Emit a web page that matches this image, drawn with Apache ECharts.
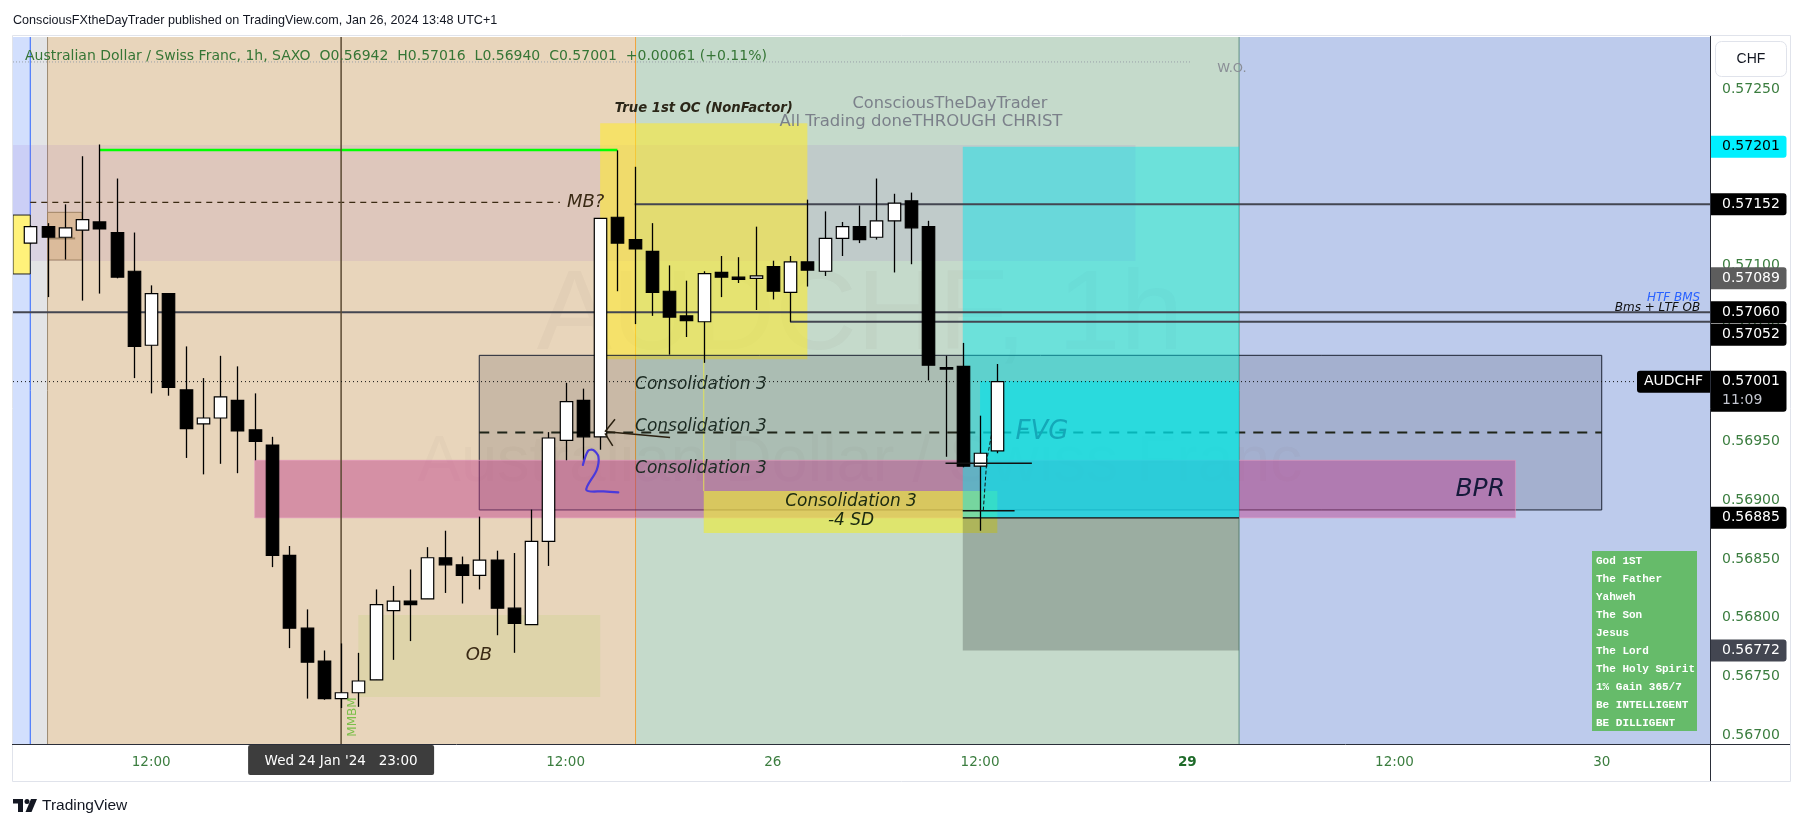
<!DOCTYPE html>
<html><head><meta charset="utf-8">
<script src="https://cdn.jsdelivr.net/npm/echarts@6/dist/echarts.min.js"></script>
<style>html,body{margin:0;padding:0;background:#fff}#c{width:1803px;height:829px}</style>
</head><body><div id="c"></div>
<script>
// ---- data (AUDCHF 1h, bar index = trading hours since Wed 24 Jan 00:00, weekend skipped)
const firstBar = 5; // 05:00 Wed 24 Jan
const opens  = [0.57119,0.57133,0.57124,0.57130,0.57137,0.57128,0.57095,0.57032,0.57076,0.56994,0.56965,0.56970,0.56985,0.56960,0.56947,0.56853,0.56791,0.56763,0.56731,0.56736,0.56747,0.56806,0.56814,0.56816,0.56851,0.56845,0.56836,0.56849,0.56808,0.56794,0.56865,0.56951,0.56985,0.56954,0.57141,0.57122,0.57112,0.57078,0.57057,0.57052,0.57094,0.57090,0.57089,0.57099,0.57077,0.57103,0.57095,0.57123,0.57133,0.57124,0.57138,0.57155,0.57133,0.57013,0.57014,0.56929,0.56942];
const highs  = [0.57134,0.57136,0.57152,0.57193,0.57203,0.57174,0.57128,0.57083,0.57076,0.57031,0.57004,0.57023,0.57014,0.56991,0.56954,0.56861,0.56807,0.56772,0.56778,0.56770,0.56824,0.56827,0.56841,0.56860,0.56874,0.56852,0.56886,0.56857,0.56855,0.56892,0.56958,0.57000,0.56995,0.57140,0.57198,0.57184,0.57136,0.57100,0.57087,0.57095,0.57108,0.57107,0.57133,0.57104,0.57108,0.57156,0.57146,0.57137,0.57151,0.57174,0.57161,0.57162,0.57138,0.57023,0.57034,0.56972,0.57016];
const lows   = [0.57118,0.57073,0.57105,0.57070,0.57076,0.57089,0.57004,0.56991,0.56989,0.56936,0.56922,0.56931,0.56923,0.56934,0.56843,0.56774,0.56731,0.56730,0.56723,0.56724,0.56747,0.56764,0.56780,0.56816,0.56821,0.56812,0.56824,0.56785,0.56770,0.56794,0.56844,0.56934,0.56934,0.56943,0.57078,0.57050,0.57057,0.57024,0.57039,0.57017,0.57073,0.57085,0.57062,0.57071,0.57052,0.57082,0.57091,0.57108,0.57119,0.57122,0.57094,0.57101,0.57002,0.56937,0.56928,0.56874,0.56940];
const closes = [0.57133,0.57124,0.57132,0.57139,0.57131,0.57090,0.57031,0.57076,0.56996,0.56961,0.56970,0.56988,0.56959,0.56950,0.56853,0.56791,0.56762,0.56731,0.56736,0.56746,0.56811,0.56814,0.56811,0.56851,0.56845,0.56836,0.56849,0.56808,0.56795,0.56865,0.56953,0.56984,0.56954,0.57140,0.57119,0.57114,0.57077,0.57056,0.57053,0.57093,0.57090,0.57088,0.57091,0.57078,0.57103,0.57096,0.57123,0.57133,0.57122,0.57138,0.57153,0.57132,0.57015,0.57012,0.56929,0.56940,0.57001];
const timeTickValues = [12,36,48,60,72,84,96];
const timeTickLabels = ['12:00','12:00','26','12:00','29','12:00','30'];
const priceTickValues = [0.567,0.5675,0.568,0.5685,0.569,0.5695,0.570,0.5705,0.571,0.5715,0.572,0.5725];
const priceTags = [
  {p:0.57201, bg:'#00f0ff', fg:'#000'},
  {p:0.57152, bg:'#000', fg:'#fff'},
  {p:0.57089, bg:'#5d5d5d', fg:'#fff'},
  {p:0.57060, bg:'#000', fg:'#fff'},
  {p:0.57052, bg:'#000', fg:'#fff', dy:13},
  {p:0.56885, bg:'#000', fg:'#fff'},
  {p:0.56772, bg:'#434651', fg:'#fff'}
];
const lastPrice = 0.57001;
const tableRows = ['God 1ST','The Father','Yahweh','The Son','Jesus','The Lord','The Holy Spirit','1% Gain 365/7','Be INTELLIGENT','BE DILLIGENT'];

const PMIN = 0.5669234, PMAX = 0.5729455, TMIN = 4, TMAX = 102.27;

// ---- drawings (in bar-index / price units)
const under = [
  {k:'rect', t1:4, t2:5, p1:PMIN, p2:PMAX, fill:'#d2dffd'},
  {k:'rect', t1:5, t2:6, p1:PMIN, p2:PMAX, fill:'#e3e4e6'},
  {k:'rect', t1:6, t2:40.05, p1:PMIN, p2:PMAX, fill:'#e8d5bb'},
  {k:'rect', t1:40.05, t2:75, p1:PMIN, p2:PMAX, fill:'#c5dacb'},
  {k:'rect', t1:75, t2:TMAX, p1:PMIN, p2:PMAX, fill:'#bdcbec'},
  {k:'vline', t:5, color:'#2962ff'},
  {k:'vline', t:6, color:'#9b8b72'},
  {k:'vline', t:40.05, color:'#f2a33a'},
  {k:'vline', t:75, color:'#5f8f80'},
  {k:'text', t:53.05, p:0.57055, text:'AUDCHF, 1h', size:113, fill:'rgba(80,70,60,0.035)', family:'Liberation Sans'},
  {k:'text', t:53.05, p:0.56932, text:'Australian Dollar / Swiss Franc', size:65, fill:'rgba(80,70,60,0.03)', family:'Liberation Sans'},
  {k:'rect', t1:4, t2:69, p1:0.571037, p2:0.572026, fill:'rgba(160,100,200,0.12)'},
  {k:'rect', t1:24, t2:38, p1:0.567324, p2:0.568022, fill:'rgba(190,210,120,0.25)'},
  {k:'rect', t1:4, t2:5, p1:0.570927, p2:0.571429, fill:'#fff27a', stroke:'#222'},
  {k:'rect', t1:6, t2:8, p1:0.571046, p2:0.571452, fill:'rgba(215,165,95,0.35)', stroke:'#a08565'},
  {k:'seg', t1:6, p1:0.57123, t2:7.6, p2:0.57123, color:'#a08565', w:2},
  {k:'rect', t1:38, t2:50, p1:0.5702, p2:0.57221, fill:'rgba(255,235,40,0.55)'},
  {k:'rect', t1:31, t2:96, p1:0.568917, p2:0.570234, fill:'rgba(30,30,50,0.15)', stroke:'#1c2333'},
  {k:'rect', t1:18, t2:91, p1:0.56885, p2:0.56934, fill:'rgba(190,60,140,0.45)', stroke:'rgba(230,150,190,0.6)'},
  {k:'rect', t1:44, t2:61, p1:0.568721, p2:0.569078, fill:'rgba(235,235,60,0.65)'},
  {k:'seg', t1:44, p1:0.569078, t2:44, p2:0.5702, color:'rgba(230,230,80,0.9)', w:1},
  {k:'seg', t1:31, p1:0.569576, t2:96, p2:0.569576, color:'#1f2418', w:2, dash:[10,8]},
  {k:'rect', t1:59, t2:75, p1:0.56885, p2:0.57201, fill:'rgba(0,232,238,0.45)'},
  {k:'rect', t1:59, t2:75, p1:0.56772, p2:0.56885, fill:'rgba(30,40,35,0.25)'},
  {k:'rect', t1:60, t2:75, p1:0.56885, p2:0.570015, fill:'rgba(0,225,235,0.55)'},
  {k:'seg', t1:59, p1:0.56885, t2:75, p2:0.56885, color:'#111', w:1.2},
  {k:'seg', t1:4, p1:0.572733, t2:72.16, p2:0.572733, color:'#9aa0a8', w:1, dash:[1,2]},
  {k:'seg', t1:5, p1:0.571537, t2:35.67, p2:0.571537, color:'#3a2a12', w:1.3, dash:[6,5]},
  {k:'seg', t1:9, p1:0.571983, t2:39, p2:0.571983, color:'#00ff00', w:2.5},
  {k:'seg', t1:40, p1:0.57152, t2:TMAX, p2:0.57152, color:'#434651', w:2},
  {k:'seg', t1:4, p1:0.57060, t2:TMAX, p2:0.57060, color:'#434651', w:2},
  {k:'seg', t1:49, p1:0.57052, t2:TMAX, p2:0.57052, color:'#434651', w:2},
  {k:'vline', t:23, color:'#5b4a33', w:1.5},
  {k:'seg', t1:4, p1:lastPrice, t2:98.05, p2:lastPrice, color:'#111', w:1, dash:[1,3]}
];
const over = [
  {k:'text', t:44.0, p:0.572338, text:'True 1st OC (NonFactor)', size:13.2, fill:'#2b2618', style:'italic', weight:'bold'},
  {k:'text', t:58.26, p:0.572379, text:'ConsciousTheDayTrader', size:16.2, fill:'#7b808a'},
  {k:'text', t:56.58, p:0.572221, text:'All Trading doneTHROUGH CHRIST', size:16.5, fill:'#7b808a'},
  {k:'text', t:74.59, p:0.572673, text:'W.O.', size:13, fill:'#8a8e96'},
  {k:'text', t:36.08, p:0.57154, text:'MB?', size:18, fill:'#3a2a15', style:'italic', align:'left'},
  {k:'text', t:40.02, p:0.569987, text:'Consolidation 3', size:17, fill:'#1b2a22', style:'italic', align:'left'},
  {k:'text', t:40.02, p:0.569626, text:'Consolidation 3', size:17, fill:'#1b2a22', style:'italic', align:'left'},
  {k:'text', t:40.02, p:0.569271, text:'Consolidation 3', size:17, fill:'#1b2a22', style:'italic', align:'left'},
  {k:'text', t:52.53, p:0.56899, text:'Consolidation 3', size:17, fill:'#1b2a10', style:'italic'},
  {k:'text', t:52.53, p:0.568823, text:'-4 SD', size:17, fill:'#1b2a10', style:'italic'},
  {k:'text', t:63.59, p:0.569583, text:'FVG', size:26, fill:'#14a8b8', style:'italic'},
  {k:'text', t:90.4, p:0.569095, text:'BPR', size:25, fill:'#15193a', style:'italic', align:'right'},
  {k:'text', t:30.98, p:0.567681, text:'OB', size:18, fill:'#3a2a15', style:'italic'},
  {k:'text', t:101.7, p:0.570722, text:'HTF BMS', size:12, fill:'#2962ff', style:'italic', align:'right'},
  {k:'text', t:101.7, p:0.570637, text:'Bms + LTF OB', size:12, fill:'#111', style:'italic', align:'right'},
  {k:'text', t:23.69, p:0.567153, text:'MMBM', size:12, fill:'#7cbf4a', rot:Math.PI/2},
  {k:'path', pts:[[37.0,0.5693],[37.3,0.56942],[37.6,0.569428],[37.9,0.569371],[37.8,0.569257],[37.2,0.569087],[38.2,0.569075],[39.05,0.569067]], color:'#4a3adb', w:2.2, smooth:0.3},
  {k:'seg', t1:38.28, p1:0.569583, t2:38.86, p2:0.569689, color:'#2a2010', w:1.5},
  {k:'seg', t1:38.28, p1:0.56957, t2:38.73, p2:0.569462, color:'#2a2010', w:1.5},
  {k:'seg', t1:38.38, p1:0.569583, t2:42.05, p2:0.569535, color:'#2a2010', w:1.5},
  {k:'seg', t1:58, p1:0.569314, t2:63, p2:0.569314, color:'#111', w:1.5},
  {k:'seg', t1:59, p1:0.568911, t2:62, p2:0.568911, color:'#111', w:1.5},
  {k:'path', pts:[[60.19,0.568917],[60.39,0.569342],[60.68,0.56957]], color:'#111', w:1, dash:[3,3]}
];
const tags = priceTags.map(t => Object.assign({k:'tag'}, t)).concat([
  {k:'last', p:lastPrice},
  {k:'sym', p:lastPrice},
  {k:'time', t:23, text:"Wed 24 Jan '24   23:00"}
]);

function rectOf(api, a){
  const A = api.coord([a.t1, a.p2]), B = api.coord([a.t2, a.p1]);
  return {x:A[0], y:A[1], width:B[0]-A[0], height:B[1]-A[1]};
}
function draw(a, api){
  if (a.k === 'rect') return {type:'rect', shape:rectOf(api,a), style:{fill:a.fill, stroke:a.stroke, lineWidth:1}};
  if (a.k === 'vline') { const s = api.coord([a.t, PMAX]), e = api.coord([a.t, PMIN]);
    return {type:'line', shape:{x1:s[0],y1:s[1],x2:e[0],y2:e[1]}, style:{stroke:a.color, lineWidth:a.w||1}}; }
  if (a.k === 'seg') { const s = api.coord([a.t1,a.p1]), e = api.coord([a.t2,a.p2]);
    return {type:'line', shape:{x1:s[0],y1:s[1],x2:e[0],y2:e[1]}, style:{stroke:a.color, lineWidth:a.w||1, lineDash:a.dash}}; }
  if (a.k === 'path') { const pts = a.pts.map(q => api.coord(q));
    return {type:'polyline', shape:{points:pts, smooth:a.smooth||0}, style:{stroke:a.color, lineWidth:a.w||1, fill:null, lineDash:a.dash, lineCap:'round', lineJoin:'round'}}; }
  if (a.k === 'text') { const q = api.coord([a.t, a.p]);
    return {type:'text', x:q[0], y:q[1], rotation:a.rot||0, style:{text:a.text, x:0, y:0, fill:a.fill, fontSize:a.size,
      fontFamily:a.family||'DejaVu Sans', fontStyle:a.style||'normal', fontWeight:a.weight||'normal', align:a.align||'center', verticalAlign:'middle'}}; }
  return null;
}
function drawTag(a, api){
  const font = {fontSize:14, fontFamily:'DejaVu Sans'};
  if (a.k === 'tag') { const q = api.coord([TMAX, a.p]); const x = q[0], y = q[1] + (a.dy||0);
    return {type:'group', children:[
      {type:'rect', shape:{x:x+0.5, y:y-11, width:76, height:22, r:[0,3,3,0]}, style:{fill:a.bg}},
      {type:'text', style:Object.assign({text:a.p.toFixed(5), x:x+12, y:y, fill:a.fg, verticalAlign:'middle', align:'left'}, font)}]}; }
  if (a.k === 'last') { const q = api.coord([TMAX, a.p]); const x = q[0], y = q[1];
    return {type:'group', children:[
      {type:'rect', shape:{x:x+0.5, y:y-11, width:76, height:41, r:[0,3,3,0]}, style:{fill:'#000'}},
      {type:'text', style:Object.assign({text:a.p.toFixed(5), x:x+12, y:y, fill:'#fff', verticalAlign:'middle'}, font)},
      {type:'text', style:Object.assign({text:'11:09', x:x+12, y:y+19, fill:'#c3c6cf', verticalAlign:'middle'}, font)}]}; }
  if (a.k === 'sym') { const q = api.coord([TMAX, a.p]); const x = q[0], y = q[1];
    return {type:'group', children:[
      {type:'rect', shape:{x:x-73, y:y-11, width:73, height:22, r:[3,0,0,3]}, style:{fill:'#000'}},
      {type:'text', style:Object.assign({text:'AUDCHF', x:x-36.5, y:y, fill:'#fff', verticalAlign:'middle', align:'center'}, font)}]}; }
  if (a.k === 'time') { const q = api.coord([a.t, PMIN]); const x = q[0], y = q[1];
    return {type:'group', children:[
      {type:'rect', shape:{x:x-93, y:y+1, width:186, height:30, r:2}, style:{fill:'#3d3d3d'}},
      {type:'text', style:{text:a.text, x:x, y:y+17, fill:'#fff', fontSize:13.5, fontFamily:'DejaVu Sans', align:'center', verticalAlign:'middle'}}]}; }
  return null;
}
function renderCandle(params, api){
  const t = api.value(0), o = api.value(1), c = api.value(2), l = api.value(3), h = api.value(4);
  const po = api.coord([t,o]), pc = api.coord([t,c]), pl = api.coord([t,l]), ph = api.coord([t,h]);
  const w = api.size([1,0])[0]*0.72;
  const x = Math.round(po[0]) + 0.5;
  const top = Math.min(po[1],pc[1]), bot = Math.max(po[1],pc[1]);
  return {type:'group', children:[
    {type:'line', shape:{x1:x,y1:ph[1],x2:x,y2:pl[1]}, style:{stroke:'#000', lineWidth:1.3}},
    {type:'rect', shape:{x:x-w/2, y:top, width:w, height:Math.max(bot-top,1.5)}, style:{fill:c>=o?'#fff':'#000', stroke:'#000', lineWidth:1.2}}
  ]};
}

const candleData = opens.map((o,i) => [firstBar+i, o, closes[i], lows[i], highs[i]]);
const dummy = arr => arr.map(() => [50, 0.57]);
const green = '#3b7d3f';

const chart = echarts.init(document.getElementById('c'));
chart.setOption({
  animation:false,
  backgroundColor:'#fff',
  grid:{left:13, right:93, top:37, bottom:85},
  xAxis:{type:'value', min:TMIN, max:TMAX, splitLine:{show:false}, axisLine:{show:false}, axisTick:{show:false},
    axisLabel:{customValues:timeTickValues, margin:11, color:green, fontSize:13.5, fontFamily:'DejaVu Sans',
      formatter:v => { const s = timeTickLabels[timeTickValues.indexOf(v)]; return s === '29' ? '{b|29}' : s; },
      rich:{b:{fontWeight:'bold', color:'#1f6b2a', fontSize:13.5, fontFamily:'DejaVu Sans'}}}},
  yAxis:{type:'value', position:'right', min:PMIN, max:PMAX, splitLine:{show:false}, axisLine:{show:false}, axisTick:{show:false},
    axisLabel:{customValues:priceTickValues, margin:12, color:green, fontSize:14, fontFamily:'DejaVu Sans', formatter:v => v.toFixed(5)}},
  series:[
    {type:'custom', name:'drawings', data:dummy(under), renderItem:(p,api)=>draw(under[p.dataIndex],api), clip:true, z:1, silent:true},
    {type:'custom', name:'AUDCHF', data:candleData, encode:{x:0, y:[1,2,3,4]}, renderItem:renderCandle, clip:true, z:3},
    {type:'custom', name:'labels', data:dummy(over), renderItem:(p,api)=>draw(over[p.dataIndex],api), clip:true, z:4, silent:true},
    {type:'custom', name:'tags', data:dummy(tags), renderItem:(p,api)=>drawTag(tags[p.dataIndex],api), clip:false, z:5, silent:true}
  ],
  graphic:[
    {type:'rect', z:100, shape:{x:12.5, y:35.5, width:1778, height:746}, style:{fill:null, stroke:'#e0e3eb'}},
    {type:'line', z:100, shape:{x1:1710.5, y1:36, x2:1710.5, y2:781}, style:{stroke:'#2a2e39', lineWidth:1}},
    {type:'line', z:100, shape:{x1:12, y1:744.5, x2:1790, y2:744.5}, style:{stroke:'#2a2e39', lineWidth:1}},
    {type:'rect', z:100, shape:{x:1715.5, y:41.5, width:71, height:35, r:6}, style:{fill:'#fff', stroke:'#e0e3eb'}},
    {type:'text', z:101, style:{text:'CHF', x:1751, y:59, fill:'#131722', fontSize:14, fontFamily:'Liberation Sans', align:'center', verticalAlign:'middle'}},
    {type:'text', z:101, style:{text:'ConsciousFXtheDayTrader published on TradingView.com, Jan 26, 2024 13:48 UTC+1', x:13, y:21, fill:'#131722', fontSize:12.6, fontFamily:'Liberation Sans', verticalAlign:'middle'}},
    {type:'text', z:101, style:{text:'Australian Dollar / Swiss Franc, 1h, SAXO  O0.56942  H0.57016  L0.56940  C0.57001  +0.00061 (+0.11%)', x:25, y:56, fill:'#357535', fontSize:14, fontFamily:'DejaVu Sans', verticalAlign:'middle'}},
    {type:'rect', z:100, shape:{x:1592, y:551, width:105, height:180}, style:{fill:'#66bb6a'}},
  ].concat(tableRows.map((s,i) => ({type:'text', z:101, style:{text:s, x:1596, y:561+i*18, fill:'#fff', fontSize:11, fontWeight:'bold', fontFamily:'Liberation Mono', verticalAlign:'middle'}})))
   .concat([
    {type:'rect', z:101, shape:{x:13, y:799, width:10, height:4.5}, style:{fill:'#131722'}},
    {type:'rect', z:101, shape:{x:18, y:799, width:5, height:13}, style:{fill:'#131722'}},
    {type:'circle', z:101, shape:{cx:27, cy:801.5, r:2.5}, style:{fill:'#131722'}},
    {type:'polygon', z:101, shape:{points:[[31,799],[37,799],[31.5,812],[25.5,812]]}, style:{fill:'#131722'}},
    {type:'text', z:101, style:{text:'TradingView', x:42, y:806, fill:'#131722', fontSize:15.5, fontFamily:'Liberation Sans', verticalAlign:'middle'}}
  ])
});
</script></body></html>
